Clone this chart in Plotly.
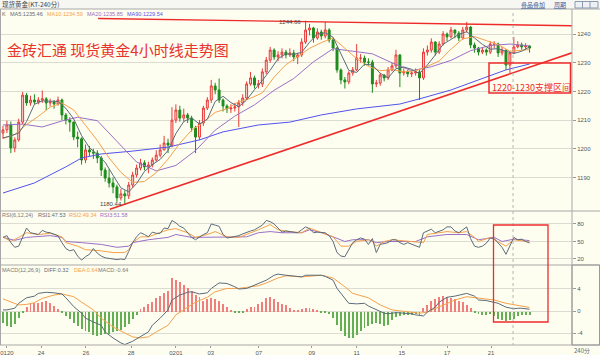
import plotly.graph_objects as go

# ---------------- data ----------------
closes = [1206.6, 1208.3, 1200.3, 1203.1, 1209.3, 1218.7, 1216.0, 1217.0, 1216.3, 1217.0,
          1217.4, 1216.0, 1216.3, 1215.6, 1217.0, 1211.8, 1210.0, 1209.3, 1204.1, 1203.5,
          1196.1, 1199.6, 1198.9, 1198.5, 1196.8, 1192.6, 1189.8, 1188.1, 1186.7, 1182.9,
          1184.3, 1183.6, 1187.4, 1190.9, 1193.3, 1195.1, 1193.7, 1194.4, 1196.1, 1197.8,
          1199.6, 1202.0, 1201.3, 1210.0, 1213.5, 1210.7, 1211.8, 1210.7, 1207.3, 1204.1,
          1209.0, 1214.2, 1217.0, 1221.9, 1220.5, 1217.0, 1214.9, 1213.9, 1214.2, 1214.6,
          1216.0, 1217.7, 1222.6, 1224.7, 1222.2, 1222.6, 1226.8, 1230.9, 1234.4, 1232.0,
          1232.7, 1233.7, 1232.7, 1233.4, 1232.0, 1232.7, 1237.2, 1241.4, 1242.1, 1238.6,
          1240.7, 1239.3, 1241.4, 1237.9, 1235.1, 1227.5, 1224.0, 1223.3, 1226.4, 1227.5,
          1231.6, 1231.6, 1230.2, 1230.2, 1222.6, 1222.9, 1225.7, 1224.7, 1227.5, 1228.9,
          1232.7, 1226.4, 1226.8, 1226.1, 1226.4, 1226.8, 1224.7, 1233.7, 1234.4, 1237.2,
          1233.7, 1236.5, 1240.0, 1239.0, 1241.4, 1240.3, 1238.6, 1241.4, 1242.4, 1236.2,
          1235.1, 1233.7, 1234.4, 1233.7, 1236.5, 1236.5, 1233.4, 1234.4, 1229.2, 1233.4,
          1235.5, 1236.2, 1235.5, 1235.8, 1235.1]
first_open = 1205.5
highs = [1208.0, 1209.8, 1209.5, 1204.0, 1210.5, 1219.8, 1219.5, 1218.5, 1219.0, 1218.0,
         1220.3, 1218.0, 1217.5, 1217.0, 1218.2, 1217.5, 1212.5, 1211.0, 1209.5, 1206.0,
         1204.0, 1201.5, 1201.0, 1200.0, 1199.5, 1197.5, 1193.5, 1193.0, 1190.0, 1187.5,
         1186.0, 1185.5, 1188.5, 1192.0, 1194.5, 1196.5, 1196.0, 1195.5, 1197.0, 1199.5,
         1201.5, 1204.5, 1203.5, 1214.5, 1215.5, 1215.0, 1214.0, 1212.5, 1211.5, 1208.0,
         1210.0, 1215.0, 1218.0, 1224.0, 1223.0, 1224.5, 1217.5, 1215.5, 1215.5, 1216.0,
         1217.0, 1219.0, 1223.5, 1226.8, 1225.5, 1224.0, 1228.0, 1232.0, 1235.5, 1235.0,
         1234.0, 1235.0, 1234.5, 1235.0, 1234.5, 1233.5, 1238.5, 1244.66, 1243.5, 1242.5,
         1242.0, 1241.5, 1244.3, 1242.0, 1238.5, 1235.5, 1228.0, 1225.0, 1227.0, 1228.5,
         1236.5, 1233.0, 1232.5, 1231.5, 1231.0, 1224.0, 1226.5, 1226.0, 1228.5, 1230.0,
         1234.5, 1233.0, 1228.0, 1227.5, 1227.5, 1228.0, 1227.5, 1235.0, 1236.0, 1238.5,
         1237.5, 1237.5, 1241.0, 1240.5, 1242.5, 1241.5, 1241.0, 1242.5, 1244.2, 1242.8,
         1237.0, 1235.5, 1235.5, 1235.0, 1237.5, 1237.5, 1237.0, 1235.5, 1234.5, 1234.0,
         1239.0, 1237.5, 1237.0, 1236.8, 1236.0]
lows = [1203.5, 1205.5, 1198.5, 1198.8, 1202.5, 1208.5, 1215.0, 1215.0, 1215.5, 1215.5,
        1216.0, 1213.5, 1214.8, 1214.0, 1215.0, 1210.0, 1208.5, 1206.0, 1203.0, 1200.5,
        1194.5, 1195.0, 1197.5, 1196.5, 1195.0, 1190.5, 1188.5, 1186.5, 1184.5, 1181.5,
        1182.0, 1180.44, 1182.5, 1186.5, 1190.0, 1192.5, 1192.5, 1191.5, 1193.5, 1195.5,
        1197.0, 1199.5, 1198.5, 1200.5, 1209.0, 1209.5, 1209.5, 1209.0, 1206.0, 1198.5,
        1203.0, 1208.0, 1213.5, 1216.0, 1219.0, 1216.0, 1213.0, 1212.5, 1212.5, 1213.0,
        1207.6, 1215.0, 1217.0, 1222.0, 1221.0, 1221.0, 1221.5, 1226.0, 1230.0, 1231.0,
        1230.5, 1231.5, 1231.5, 1232.0, 1230.5, 1229.5, 1232.0, 1236.5, 1239.5, 1237.0,
        1238.0, 1238.0, 1238.5, 1237.0, 1234.0, 1226.5, 1222.5, 1221.0, 1222.5, 1225.5,
        1227.0, 1230.0, 1229.0, 1229.0, 1219.5, 1221.5, 1222.0, 1223.5, 1224.0, 1227.0,
        1228.0, 1221.5, 1225.5, 1225.0, 1225.0, 1225.5, 1217.0, 1224.0, 1232.5, 1233.5,
        1232.5, 1233.0, 1236.0, 1237.5, 1238.5, 1238.5, 1237.5, 1238.0, 1240.5, 1235.0,
        1233.5, 1232.5, 1233.0, 1232.5, 1233.0, 1235.0, 1232.0, 1232.5, 1227.5, 1226.4,
        1233.0, 1235.0, 1234.5, 1234.5, 1233.5]
opens = [first_open] + closes[:-1]
bar_idx = list(range(len(closes)))

ma5_idx = list(range(0, 135, 2))
ma5 = [1203.8, 1204.5, 1205.5, 1209.5, 1215.5, 1216.7, 1216.6, 1216.5, 1214.1, 1210.4,
       1204.6, 1200.4, 1198.0, 1195.3, 1190.8, 1186.4, 1185.0, 1187.9, 1192.1, 1194.5,
       1196.3, 1199.4, 1205.3, 1209.5, 1210.8, 1208.6, 1210.3, 1216.5, 1218.3, 1216.1,
       1214.7, 1217.0, 1220.6, 1223.8, 1227.4, 1231.4, 1233.1, 1232.9, 1233.6, 1237.1,
       1240.0, 1240.4, 1238.9, 1233.2, 1227.3, 1226.6, 1229.5, 1229.2, 1226.3, 1224.7,
       1227.9, 1228.5, 1227.7, 1226.2, 1229.2, 1232.7, 1236.4, 1238.1, 1239.9, 1240.8,
       1238.7, 1236.4, 1234.7, 1234.9, 1234.0, 1233.2, 1234.0, 1235.5]
ma10_idx = [0, 3, 6, 9, 12, 15, 18, 21, 24, 27, 30, 33, 36, 39, 42, 45, 48, 51, 54, 57,
            60, 63, 66, 69, 72, 75, 78, 81, 84, 87, 90, 93, 96, 99, 102, 105, 108, 111, 114,
            117, 120, 123, 126, 129, 132, 134]
ma10 = [1203.5, 1205.0, 1208.5, 1211.3, 1214.5, 1216.0, 1213.5, 1208.3, 1202.9, 1196.8,
        1191.8, 1188.3, 1188.6, 1191.7, 1196.4, 1201.9, 1206.5, 1209.3, 1212.7, 1214.0,
        1216.4, 1217.6, 1219.5, 1225.0, 1229.3, 1232.1, 1235.0, 1237.0, 1238.6, 1235.0,
        1231.4, 1228.7, 1227.2, 1227.6, 1226.8, 1227.2, 1228.7, 1230.6, 1234.7, 1238.3,
        1239.1, 1237.7, 1236.3, 1234.0, 1234.4, 1234.59]
ma20_idx = [0, 5, 10, 15, 19, 24, 29, 34, 39, 44, 49, 54, 59, 64, 69, 74, 79, 84, 89, 94,
            99, 104, 109, 114, 119, 124, 129, 134]
ma20 = [1208.3, 1208.6, 1207.6, 1209.7, 1211.0, 1209.8, 1202.6, 1195.4, 1192.3, 1194.2,
        1199.4, 1206.5, 1211.4, 1215.3, 1220.4, 1224.5, 1230.3, 1234.9, 1234.0, 1233.1,
        1229.95, 1227.2, 1228.6, 1230.8, 1234.2, 1236.0, 1236.5, 1235.85]
ma90_idx = [0, 8, 16, 20, 25, 33, 42, 50, 56, 65, 73, 81, 90, 101, 106, 114, 121, 128, 134]
ma90 = [1184.6, 1188.1, 1193.7, 1196.8, 1198.2, 1199.2, 1200.6, 1203.1, 1205.9, 1208.3,
        1209.3, 1211.8, 1213.9, 1215.6, 1217.4, 1220.5, 1224.0, 1227.5, 1229.54]

rsi1 = [57, 60, 48, 40, 42, 58, 73, 65, 63, 62, 69, 66, 65, 62, 60, 48, 38, 34, 36, 25,
        18, 24, 28, 38, 30, 25, 22, 21, 20, 19, 20, 19, 33, 48, 58, 65, 62, 58, 66, 64,
        64, 73, 72, 86, 82, 76, 73, 65, 57, 53, 58, 62, 65, 80, 78, 76, 62, 56, 57, 58,
        60, 63, 66, 68, 70, 74, 78, 86, 84, 80, 72, 66, 68, 67, 66, 65, 70, 75, 72, 65,
        66, 65, 65, 60, 50, 31, 25, 24, 36, 48, 53, 56, 54, 45, 55, 31, 45, 47, 48, 53,
        53, 48, 45, 48, 45, 42, 40, 65, 68, 71, 65, 68, 70, 75, 75, 68, 65, 70, 75, 55,
        42, 40, 42, 47, 56, 55, 48, 40, 28, 42, 57, 53, 54, 50, 47.53]
rsi2_idx = [0, 2, 4, 6, 9, 12, 15, 16, 19, 21, 25, 28, 31, 32, 33, 35, 37, 40, 42, 44,
            47, 49, 52, 54, 57, 60, 62, 65, 68, 70, 73, 76, 78, 81, 84, 85, 86, 88, 90, 93,
            94, 95, 97, 99, 103, 107, 108, 111, 113, 116, 118, 120, 121, 124, 126, 128, 130, 134]
rsi2 = [58, 50, 57, 65, 62, 64, 58, 48, 42, 36, 34, 31, 31, 36, 48, 58, 58, 65, 70, 72,
        65, 57, 62, 67, 58, 57, 62, 70, 79, 70, 67, 65, 73, 65, 58, 50, 42, 42, 50, 53,
        50, 42, 50, 53, 50, 48, 62, 65, 67, 65, 67, 57, 50, 57, 50, 42, 53, 49.34]
rsi3_idx = [0, 3, 6, 12, 15, 16, 20, 25, 29, 32, 33, 37, 42, 44, 48, 52, 55, 59, 62, 65,
            68, 71, 76, 78, 81, 84, 87, 89, 93, 95, 98, 101, 105, 108, 113, 118, 121, 125,
            127, 130, 134]
rsi3 = [57, 52, 57, 60, 57, 50, 48, 45, 40, 42, 48, 53, 57, 62, 57, 57, 58, 57, 58, 65,
        67, 65, 65, 70, 65, 58, 50, 53, 53, 48, 50, 50, 50, 58, 62, 62, 53, 57, 50, 54, 51.58]

diff_idx = [0, 1, 3, 4, 6, 8, 9, 11, 13, 15, 16, 18, 20, 21, 23, 25, 26, 28, 30, 31,
            33, 35, 37, 38, 40, 42, 43, 45, 47, 48, 50, 52, 53, 55, 57, 59, 60, 62, 64, 65,
            67, 69, 70, 72, 74, 76, 77, 81, 82, 84, 85, 87, 88, 90, 92, 93, 95, 97, 98, 100,
            102, 104, 105, 107, 108, 110, 111, 113, 115, 116, 118, 120, 121, 123, 125, 126,
            128, 130, 131, 132, 134]
diff = [0.2, 0.2, 0.5, 1.4, 2.4, 2.7, 3.2, 3.4, 3.3, 3.1, 2.4, 0.8, -0.4, -1.3, -2.0, -2.6,
        -3.8, -4.9, -5.8, -6.1, -5.5, -4.7, -3.8, -2.6, -1.3, 0.2, 2.0, 2.9, 3.4, 3.5,
        3.1, 3.3, 4.1, 5.1, 5.0, 4.4, 4.0, 4.1, 4.7, 4.9, 5.6, 6.5, 6.7, 6.5, 6.4, 6.2,
        6.5, 6.5, 6.3, 5.6, 4.1, 2.4, 1.4, 1.3, 1.4, 0.9, 0.2, -0.4, -0.5, -0.3, -0.4, -0.5,
        -0.7, -0.9, -0.2, 0.7, 1.6, 2.5, 2.7, 2.9, 3.2, 2.7, 2.0, 1.9, 1.5, 1.4, 0.7, 0.4,
        0.5, 0.5, 0.32]
dea_idx = [0, 2, 4, 6, 8, 10, 13, 15, 18, 20, 23, 25, 28, 31, 33, 35, 37, 39, 42, 44,
           47, 49, 52, 54, 57, 60, 62, 65, 67, 70, 72, 76, 81, 84, 87, 89, 93, 96, 99, 103,
           106, 108, 111, 115, 118, 121, 125, 128, 132, 134]
dea = [2.2, 1.6, 1.1, 1.2, 1.5, 2.3, 2.9, 3.1, 2.6, 1.6, 0.2, -1.3, -2.9, -4.0, -4.7,
       -4.9, -4.7, -3.8, -2.6, -0.7, 0.7, 1.6, 2.5, 3.5, 4.1, 4.1, 4.3, 4.6, 5.1, 6.0,
       6.4, 6.2, 6.5, 6.0, 4.4, 3.2, 2.4, 1.1, 0.2, -0.1, -0.4, -0.2, 0.7, 2.0, 2.6,
       2.3, 2.0, 1.4, 0.9, 0.64]
macd_hist = [-2.0, -2.6, -2.8, -2.2, -1.2, -0.3,
             0.8, 1.3, 1.5, 1.6, 1.8, 1.9, 1.6, 1.0, 0.4,
             -0.3, -0.8, -1.4, -2.0, -2.6, -3.2, -3.5, -3.8, -4.2, -4.4, -4.3, -4.0, -4.1,
             -3.8, -3.6, -3.3, -2.8, -2.2, -1.4, -0.6,
             0.4, 0.9, 1.3, 1.8, 2.4, 2.8, 3.3, 3.8, 6.0, 5.8, 5.4, 4.9, 4.3, 3.8, 3.0,
             2.6, 2.0, 2.3, 2.5, 2.2, 1.9, 1.3, 0.8, 0.3,
             -0.2, -0.3, -0.2,
             0.4, 0.9, 0.8, 1.3, 1.8, 2.4, 2.7, 2.3, 1.8, 1.4, 1.1, 0.6, 0.3, 0.2,
             0.4, 0.7, 0.6, 0.4, 0.3,
             -0.1, -0.3,
             -0.4, -1.2, -2.4, -3.5, -4.4, -4.9, -4.8, -4.2, -3.6, -3.0, -2.6, -2.3, -2.0,
             -2.3, -2.6, -2.4, -1.6, -1.0, -0.9, -0.7, -0.6, -0.6, -0.5, -0.6,
             0.7, 1.2, 2.0, 2.3, 2.6, 2.9, 2.6, 2.4, 2.2, 2.0, 1.8, 1.2, 0.6,
             -0.3, -0.5, -0.6, -0.7, -0.5, -0.9, -1.3, -1.5, -1.8, -1.6, -1.3, -0.9, -0.7,
             -0.6, -0.64]

# trend lines drawn on the chart (index, price)
support_x = [27.2, 144.8]
support_y = [1178.9, 1233.45]
resist_x = [24.2, 144.8]
resist_y = [1245.4, 1242.9]

date_pos = [1, 9.7, 21.1, 32.6, 44, 52.9, 65.1, 78.6, 90, 101.5, 113, 124.2]
date_lbl = ["0120", "24", "26", "28", "0201", "03", "07", "09", "11", "15", "17", "21"]

legend_vals = {"MA5": "1235.46", "MA10": "1234.59", "MA20": "1235.85", "MA90": "1229.54"}

# ---------------- style ----------------
W, H = 600, 355
ML, MR, MT, MB = 0, 28, 9, 10
PW, PH = W - ML - MR, H - MT - MB
BG = "#FEFEF0"
C_MA5 = "#5b6b7b"
C_MA10 = "#f5a04a"
C_MA20 = "#9a6fc8"
C_MA90 = "#5252ee"
C_RED = "#ee2b2b"
GRID = "#dcdcd2"
SEP = "#a8a8a8"
FONT = "Liberation Sans, Arial, Noto Sans CJK SC"
CJK = "Noto Sans CJK SC, Liberation Sans"


def px(x):
    return (x - ML) / PW


def py(y):
    return (H - MB - y) / PH


fig = go.Figure()

fig.add_trace(go.Candlestick(
    x=bar_idx, open=opens, high=highs, low=lows, close=closes,
    increasing=dict(line=dict(color="#e83a3a", width=1), fillcolor="#fbd9d2"),
    decreasing=dict(line=dict(color="#1c8c1c", width=1), fillcolor="#1c8c1c"),
    whiskerwidth=0, xaxis="x", yaxis="y", hoverinfo="skip"))

for xs, ys, col in [(ma90_idx, ma90, C_MA90), (ma20_idx, ma20, C_MA20),
                    (ma10_idx, ma10, C_MA10), (ma5_idx, ma5, C_MA5)]:
    fig.add_trace(go.Scatter(x=xs, y=ys, mode="lines", line=dict(color=col, width=1),
                             xaxis="x", yaxis="y", hoverinfo="skip"))

fig.add_trace(go.Scatter(x=support_x, y=support_y, mode="lines",
                         line=dict(color=C_RED, width=1.6), xaxis="x", yaxis="y"))
fig.add_trace(go.Scatter(x=resist_x, y=resist_y, mode="lines",
                         line=dict(color=C_RED, width=1.4), xaxis="x", yaxis="y"))

# RSI
fig.add_trace(go.Scatter(x=rsi3_idx, y=rsi3, mode="lines", line=dict(color=C_MA20, width=1),
                         xaxis="x", yaxis="y2"))
fig.add_trace(go.Scatter(x=rsi2_idx, y=rsi2, mode="lines", line=dict(color=C_MA10, width=1),
                         xaxis="x", yaxis="y2"))
fig.add_trace(go.Scatter(x=bar_idx, y=rsi1, mode="lines", line=dict(color=C_MA5, width=1),
                         xaxis="x", yaxis="y2"))

# MACD
fig.add_trace(go.Bar(x=bar_idx, y=macd_hist, width=0.24,
                     marker=dict(color=["#f27d7d" if v >= 0 else "#62b052" for v in macd_hist],
                                 line=dict(width=0)),
                     xaxis="x", yaxis="y3"))
fig.add_trace(go.Scatter(x=dea_idx, y=dea, mode="lines", line=dict(color=C_MA10, width=1),
                         xaxis="x", yaxis="y3"))
fig.add_trace(go.Scatter(x=diff_idx, y=diff, mode="lines", line=dict(color=C_MA5, width=1),
                         xaxis="x", yaxis="y3"))

axis_common = dict(side="right", anchor="x", showgrid=True, gridcolor=GRID, gridwidth=1,
                   zeroline=False, ticks="outside", ticklen=3, tickcolor="#999",
                   tickfont=dict(size=6, color="#555"), showline=False)

fig.update_layout(
    width=W, height=H, margin=dict(l=ML, r=MR, t=MT, b=MB),
    paper_bgcolor=BG, plot_bgcolor=BG, showlegend=False,
    font=dict(family=FONT, size=6, color="#555"),
    bargap=0,
    xaxis=dict(domain=[0, 1], range=[-0.76, 144.8], anchor="y3", showgrid=False,
               zeroline=False, tickvals=date_pos, ticktext=date_lbl, ticks="outside",
               ticklen=2, tickcolor="#999", tickfont=dict(size=6, color="#555"),
               rangeslider=dict(visible=False), showline=False),
    yaxis=dict(domain=[py(211), 1], range=[1178.33, 1248.71],
               tickvals=[1190, 1200, 1210, 1220, 1230, 1240], **axis_common),
    yaxis2=dict(domain=[py(265), py(211.5)], range=[9.7, 101.4],
                tickvals=[20, 50, 80], **axis_common),
    yaxis3=dict(domain=[0, py(265.5)], range=[-6.18, 8.27],
                tickvals=[-4, 0, 4], ticktext=["-4", "0", "4"], **axis_common),
)

shapes = []
# header bar
shapes.append(dict(type="rect", xref="paper", yref="paper", x0=px(0), x1=px(600), y0=py(0), y1=py(9),
                   fillcolor="#f6f6f2", line=dict(width=0), layer="below"))
# separators
for yy in [9, 211, 265, 345]:
    shapes.append(dict(type="line", xref="paper", yref="paper", x0=px(0), x1=px(600),
                       y0=py(yy), y1=py(yy), line=dict(color=SEP, width=1)))
shapes.append(dict(type="line", xref="paper", yref="paper", x0=1, x1=1, y0=py(9), y1=py(345),
                   line=dict(color=SEP, width=1)))
shapes.append(dict(type="line", xref="paper", yref="paper", x0=px(0.5), x1=px(0.5), y0=py(9), y1=py(345),
                   line=dict(color=SEP, width=1)))
shapes.append(dict(type="rect", xref="paper", yref="paper", x0=px(572), x1=px(599.5), y0=py(265), y1=py(345),
                   line=dict(color="#999", width=1)))
# cursor dotted line
shapes.append(dict(type="line", xref="x", yref="paper", x0=129.8, x1=129.8, y0=py(13), y1=py(345),
                   line=dict(color="#b4b4b4", width=1, dash="dot")))
# red boxes
shapes.append(dict(type="rect", xref="paper", yref="paper", x0=px(489), x1=px(570.5), y0=py(63), y1=py(93),
                   line=dict(color=C_RED, width=1.5)))
shapes.append(dict(type="rect", xref="paper", yref="paper", x0=px(493.5), x1=px(548), y0=py(225), y1=py(322),
                   line=dict(color=C_RED, width=1.3)))
# header buttons
shapes.append(dict(type="rect", xref="paper", yref="paper", x0=px(575), x1=px(598), y0=py(1.5), y1=py(8),
                   line=dict(color="#8a9ab0", width=1), fillcolor="#eef0f4"))
for bx in [582.5, 590]:
    shapes.append(dict(type="line", xref="paper", yref="paper", x0=px(bx), x1=px(bx), y0=py(1.5), y1=py(8),
                       line=dict(color="#8a9ab0", width=1)))
fig.update_layout(shapes=shapes)


def txt(x, y, s, color="#555", size=6, anchor="left", family=FONT):
    return dict(x=px(x), y=py(y), xref="paper", yref="paper", text=s, showarrow=False,
                xanchor=anchor, yanchor="middle", font=dict(size=size, color=color, family=family),
                borderpad=0)


ann = [
    txt(1, 4.5, "现货黄金(KT-240分)", "#444", 6.5, family=CJK),
    txt(533, 4.5, "<u>叠品叠加</u>", "#3b5f9a", 6, "center", CJK),
    txt(560, 4.5, "<u>周期</u>", "#3b5f9a", 6, "center", CJK),
    txt(1, 14, "K", "#666", 5.5),
    txt(9, 14, "MA5:" + legend_vals["MA5"], C_MA5, 5.5),
    txt(46, 14, "MA10:" + legend_vals["MA10"], C_MA10, 5.5),
    txt(86, 14, "MA20:" + legend_vals["MA20"], C_MA20, 5.5),
    txt(126, 14, "MA90:" + legend_vals["MA90"], C_MA90, 5.5),
    txt(6, 49.5, "金砖汇通 现货黄金4小时线走势图", "#e8322c", 15, family=CJK),
    txt(290, 22, "1244.66", "#444", 6, "center"),
    txt(111, 203.5, "1180.44", "#444", 6, "center"),
    txt(491, 87.5, "1220-1230支撑区间", C_RED, 9, family=CJK),
    txt(1, 215, "RSI(6,12,24)", "#777", 5.5),
    txt(37, 215, "RSI1:47.53", C_MA5, 5.5),
    txt(68, 215, "RSI2:49.34", C_MA10, 5.5),
    txt(99, 215, "RSI3:51.58", C_MA20, 5.5),
    txt(1, 270, "MACD(12,26,9)", "#777", 5.5),
    txt(43, 270, "DIFF:0.32", C_MA5, 5.5),
    txt(73, 270, "DEA:0.64", C_MA10, 5.5),
    txt(97, 270, "MACD:-0.64", "#777", 5.5),
    txt(573, 350, "240分", "#666", 6, family=CJK),
]
fig.update_layout(annotations=ann)

fig.write_html("out.html")
